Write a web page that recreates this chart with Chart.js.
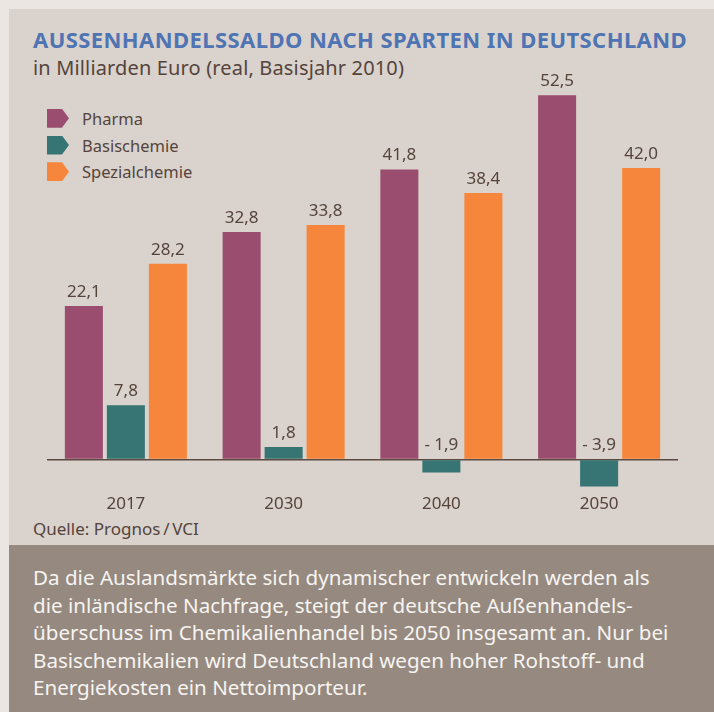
<!DOCTYPE html>
<html lang="de">
<head>
<meta charset="utf-8">
<script src="https://cdn.jsdelivr.net/npm/chart.js@4.4.1/dist/chart.umd.min.js"></script>
<style>
  html, body { margin: 0; padding: 0; }
  body { width: 714px; height: 712px; background: #ebe6e1; position: relative; overflow: hidden;
         font-family: "Noto Sans", sans-serif; color: #54443c; }
  #panel { position: absolute; left: 9px; top: 9px; right: 0; height: 536px; background: #dad2cc; }
  #note { position: absolute; left: 9px; top: 545px; right: 0; bottom: 0; background: #968a80; }
  #chart { position: absolute; left: 0; top: 0; }
  .txt { position: absolute; white-space: nowrap; line-height: 1; }
  #title { left: 33px; top: 28px; font-size: 22px; letter-spacing: 0.42px; font-weight: 700; color: #4f74b3; }
  #subtitle { left: 33px; top: 58px; font-size: 20px; letter-spacing: 0.15px; }
  #source { left: 33px; top: 520px; font-size: 17px; }
  #text { position: absolute; left: 33px; top: 564px; font-size: 20.6px; line-height: 27.5px; color: #f7f4f1; white-space: nowrap; }
  #legend { position: absolute; left: 47px; top: 105px; }
  .lg { height: 26.7px; display: flex; align-items: center; font-size: 16.5px; }
  .lg span.mk { width: 22px; height: 19px; margin-right: 13px; clip-path: polygon(0 0, 68% 0, 100% 50%, 68% 100%, 0 100%); }
</style>
</head>
<body>
<div id="panel"></div>
<div id="note"></div>
<div class="txt" id="title">AUSSENHANDELSSALDO NACH SPARTEN IN DEUTSCHLAND</div>
<div class="txt" id="subtitle">in Milliarden Euro (real, Basisjahr 2010)</div>
<div id="legend"></div>
<div class="txt" id="source">Quelle: Prognos&#8201;/&#8201;VCI</div>
<div id="text">Da die Auslandsmärkte sich dynamischer entwickeln werden als<br>die inländische Nachfrage, steigt der deutsche Außenhandels-<br>überschuss im Chemikalienhandel bis 2050 insgesamt an. Nur bei<br>Basischemikalien wird Deutschland wegen hoher Rohstoff- und<br>Energiekosten ein Nettoimporteur.</div>
<canvas id="chart" width="714" height="545"></canvas>
<script>
// Daten
const years = ['2017', '2030', '2040', '2050'];
const pharma = [22.1, 32.8, 41.8, 52.5];
const basischemie = [7.8, 1.8, -1.9, -3.9];
const spezialchemie = [28.2, 33.8, 38.4, 42.0];

const textColor = '#54443c';

// Zahlen im deutschen Format: 22,1 bzw. "- 1,9"
function fmt(v) {
  const s = Math.abs(v).toFixed(1).replace('.', ',');
  return v < 0 ? '- ' + s : s;
}

// Werte über die Balken schreiben (negative über der Nulllinie)
const valueLabels = {
  id: 'valueLabels',
  afterDatasetsDraw(chart) {
    const ctx = chart.ctx;
    const zero = chart.scales.y.getPixelForValue(0);
    ctx.save();
    ctx.font = '17px "Noto Sans"';
    ctx.fillStyle = textColor;
    ctx.textAlign = 'center';
    ctx.textBaseline = 'alphabetic';
    chart.data.datasets.forEach((ds, i) => {
      chart.getDatasetMeta(i).data.forEach((bar, j) => {
        const v = ds.data[j];
        const y = v >= 0 ? bar.y : zero;
        ctx.fillText(fmt(v), bar.x, y - 9);
      });
    });
    ctx.restore();
  }
};

const chart = new Chart(document.getElementById('chart'), {
  type: 'bar',
  data: {
    labels: years,
    datasets: [
      { label: 'Pharma', data: pharma, backgroundColor: '#9a4d6f' },
      { label: 'Basischemie', data: basischemie, backgroundColor: '#367573' },
      { label: 'Spezialchemie', data: spezialchemie, backgroundColor: '#f5863c' }
    ]
  },
  options: {
    responsive: false,
    animation: false,
    categoryPercentage: 0.799,
    barPercentage: 0.905,
    layout: { padding: { left: 47, right: 36, top: 71, bottom: 28 } },
    plugins: { legend: { display: false }, tooltip: { enabled: false } },
    scales: {
      x: {
        grid: { display: false, drawTicks: false },
        border: { display: false },
        ticks: { color: textColor, font: { family: 'Noto Sans', size: 17 }, padding: 3 }
      },
      y: {
        min: -4.5,
        max: 56,
        afterBuildTicks: scale => { scale.ticks = [{ value: 0 }]; },
        ticks: { display: false },
        border: { display: false },
        grid: { color: '#5a4a42', lineWidth: 1.5, drawTicks: false }
      }
    }
  },
  plugins: [valueLabels]
});

// Legende aus den Datensätzen
const legend = document.getElementById('legend');
chart.data.datasets.forEach(ds => {
  const row = document.createElement('div');
  row.className = 'lg';
  row.innerHTML = '<span class="mk" style="background:' + ds.backgroundColor + '"></span>' + ds.label;
  legend.appendChild(row);
});
</script>
</body>
</html>
